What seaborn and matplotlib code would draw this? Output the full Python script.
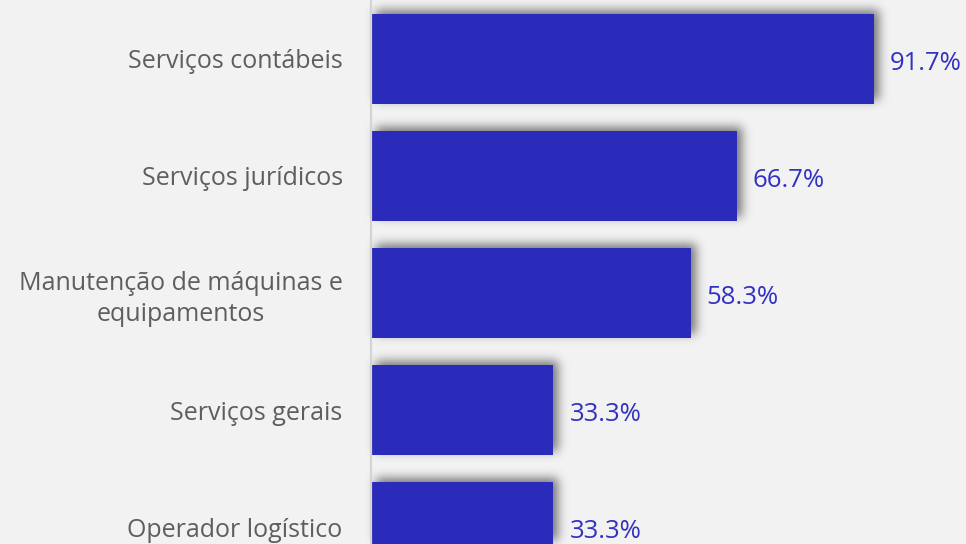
import numpy as np
import pandas as pd
import matplotlib
matplotlib.use("Agg")
import matplotlib.pyplot as plt
import seaborn as sns
from matplotlib.patches import Rectangle

categories = [
    "Serviços contábeis",
    "Serviços jurídicos",
    "Manutenção de máquinas e\nequipamentos",
    "Serviços gerais",
    "Operador logístico",
]
values = [91.7, 66.7, 58.3, 33.3, 33.3]

BG = "#f2f2f2"
BAR = "#2b2bbb"
LABEL_BLUE = "#3232c2"
TEXT_GRAY = "#605e5c"

sns.set_theme(style="white")
plt.rcParams["font.family"] = ["Open Sans", "DejaVu Sans"]


def _blur_1d(arr, kernel, axis):
    r = len(kernel) // 2
    out = np.zeros_like(arr)
    for i, w in enumerate(kernel):
        out += w * np.roll(arr, i - r, axis=axis)
    return out


def shadow_filter(sigma_px=5.0, dx_px=5, dy_px=4, alpha=0.75, color=(0.3, 0.3, 0.3)):
    r = int(3 * sigma_px)
    x = np.arange(-r, r + 1)
    k = np.exp(-x ** 2 / (2 * sigma_px ** 2))
    k /= k.sum()
    pad = r + max(abs(dx_px), abs(dy_px)) + 2

    def f(im, dpi):
        padded = np.pad(im, [(pad, pad), (pad, pad), (0, 0)], "constant")
        a = padded[:, :, 3].astype(float) * alpha
        a = _blur_1d(a, k, 0)
        a = _blur_1d(a, k, 1)
        a = np.roll(a, dx_px, axis=1)
        a = np.roll(a, -dy_px, axis=0)
        tgt = np.empty_like(padded)
        tgt[:, :, 0] = color[0]
        tgt[:, :, 1] = color[1]
        tgt[:, :, 2] = color[2]
        tgt[:, :, 3] = np.clip(a, 0, 1)
        return tgt, -pad, -pad

    return f


df = pd.DataFrame({"categoria": categories, "valor": values})

fig = plt.figure(figsize=(9.66, 5.44), dpi=100, facecolor=BG)
ax = fig.add_axes([370.5 / 966, 0.0, 1 - 370.5 / 966, 1.0])
ax.set_facecolor(BG)

sns.barplot(data=df, x="valor", y="categoria", orient="h", color=BAR,
            saturation=1, width=0.77, linewidth=0, edgecolor="none",
            ax=ax, zorder=3)

# blurred drop shadows behind each bar
filt = shadow_filter()
for p in list(ax.patches):
    sh = Rectangle((p.get_x(), p.get_y()), p.get_width(), p.get_height(),
                   facecolor="black", edgecolor="none", zorder=2)
    sh.set_agg_filter(filt)
    sh.set_rasterized(True)
    ax.add_patch(sh)

ax.set_xlim(0, 108.4)
ax.set_ylim(4.145, -0.504)

for i, v in enumerate(values):
    ax.annotate(f"{v:.1f}%", xy=(v, i), xytext=(11.5, -3), textcoords="offset points",
                ha="left", va="center", fontsize=18.5, color=LABEL_BLUE, zorder=5)

ax.set_xlabel("")
ax.set_ylabel("")
ax.set_xticks([])
ax.set_yticks(range(len(categories)), labels=categories, multialignment="center",
              linespacing=1.3)
ax.tick_params(axis="y", length=0, pad=20, labelsize=18, labelcolor=TEXT_GRAY)

for s in ["top", "right", "bottom"]:
    ax.spines[s].set_visible(False)
ax.spines["left"].set_color("#d4d4d4")
ax.spines["left"].set_linewidth(1.6)
ax.spines["left"].set_zorder(4)

fig.savefig("out.png", dpi=100, facecolor=BG)
